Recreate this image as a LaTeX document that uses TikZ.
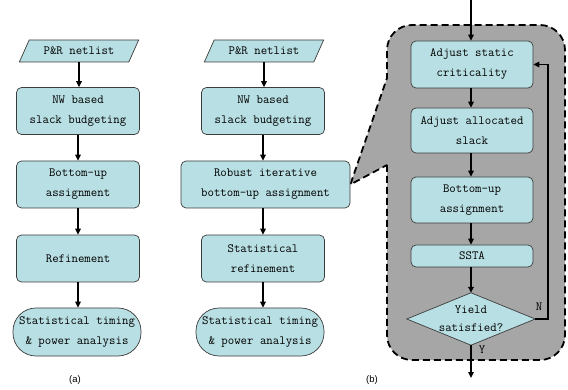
\documentclass[tikz,border=0pt]{standalone}
\usepackage{fontspec}
\usetikzlibrary{arrows.meta,shapes.geometric}
\newfontfamily\capfont{Liberation Sans}
\definecolor{cyanfill}{RGB}{184,223,227}
\definecolor{boxline}{RGB}{60,60,60}
\definecolor{regiongray}{RGB}{166,166,166}
\pgfdeclarelayer{bgzero}
\pgfdeclarelayer{bgone}
\pgfsetlayers{bgzero,bgone,main}
\begin{document}
\begin{tikzpicture}[x=1pt,y=-1pt,
 txt/.style={font=\ttfamily\fontsize{12.5}{20}\selectfont, align=center},
 box/.style={txt, draw=boxline, line width=0.7pt, fill=cyanfill, rounded corners=5pt, minimum width=123pt, minimum height=47pt, inner sep=1pt},
 term/.style={box, rounded corners=23pt, minimum width=128pt, minimum height=48pt},
 para/.style={txt, trapezium, trapezium left angle=54, trapezium right angle=126, trapezium stretches=true, draw=boxline, line width=0.7pt, fill=cyanfill, minimum width=120pt, minimum height=22pt, inner sep=1pt},
 arr/.style={line width=1.5pt, -{Triangle[length=6pt,width=5.5pt]}},
 region/.style={draw=black, fill=regiongray, line width=1.8pt, dash pattern=on 7pt off 4pt},
 caption/.style={font=\capfont\fontsize{9.5}{10}\selectfont}
]
\useasboundingbox (0,0) rectangle (568,390);

% column (a)
\node[para] (pa) at (79,51) {P\&R netlist};
\node[box] (na) at (78,111) {NW based\\slack budgeting};
\node[box] (ba) at (78,184.5) {Bottom-up\\assignment};
\node[box] (ra) at (78,258.5) {Refinement};
\node[term] (sa) at (77,332) {Statistical timing\\\& power analysis};
\draw[arr] (pa.south) -- (pa.south |- na.north);
\draw[arr] (na) -- (ba);
\draw[arr] (ba) -- (ra);
\draw[arr] (ra.south) -- (ra.south |- sa.north);
\node[caption] (la) at (75,380) {(a)};

% column (b)
\node[para] (pb) at (264,51) {P\&R netlist};
\node[box] (nb) at (263,111) {NW based\\slack budgeting};
\node[box, minimum width=169pt] (rb) at (265.5,184.5) {Robust iterative\\bottom-up assignment};
\node[box] (tb) at (263,258.5) {Statistical\\refinement};
\node[term] (sb) at (260,332) {Statistical timing\\\& power analysis};
\draw[arr] (pb.south) -- (pb.south |- nb.north);
\draw[arr] (nb.south) -- (nb.south |- rb.north);
\draw[arr] (nb.south |- rb.south) -- (nb.south |- tb.north);
\draw[arr] (tb.south) -- (tb.south |- sb.north);
\node[caption] (lb) at (372,380) {(b)};

% expanded region
\begin{pgfonlayer}{bgzero}
\path[region] (387,165) -- (387,335) arc (180:90:25) -- (540,360) arc (90:0:25)
  -- (565,50) arc (0:-90:25) -- (412,25) arc (-90:-180:25) -- (387,78)
  -- (rb.east) -- cycle;
\end{pgfonlayer}

\node[box, minimum width=122pt] (as) at (472,64.5) {Adjust static\\criticality};
\node[box, minimum width=122pt, minimum height=45pt] (al) at (472,130.5) {Adjust allocated\\slack};
\node[box, minimum width=122pt, minimum height=46pt] (bu) at (472,200) {Bottom-up\\assignment};
\node[box, minimum width=122pt, minimum height=22pt] (ss) at (472,256) {SSTA};
\node[txt, font=\ttfamily\fontsize{12.5}{18}\selectfont, minimum width=128pt, minimum height=52pt, inner sep=0pt] (dia) at (471,319) {Yield\\satisfied?};
\begin{pgfonlayer}{bgone}
\draw[draw=boxline, line width=0.7pt, fill=cyanfill] (dia.north) -- (dia.east) -- (dia.south) -- (dia.west) -- cycle;
\end{pgfonlayer}

\coordinate (tin) at (471,0);
\coordinate (tout) at (471,378);
\coordinate (fb) at (548,0);
\draw[arr] (tin) -- (tin |- as.north);
\draw[arr] (as.south -| tin) -- (tin |- al.north);
\draw[arr] (al.south -| tin) -- (tin |- bu.north);
\draw[arr] (bu.south -| tin) -- (tin |- ss.north);
\draw[arr] (ss.south -| tin) -- (dia.north);
\draw[arr] (dia.south) -- (tout);
\draw[arr] (dia.east) -- (dia.east -| fb) -- (fb |- as.east) -- (as.east);
\node[txt] (ln) at (539,307) {N};
\node[txt] (ly) at (482,350) {Y};
\end{tikzpicture}
\end{document}
